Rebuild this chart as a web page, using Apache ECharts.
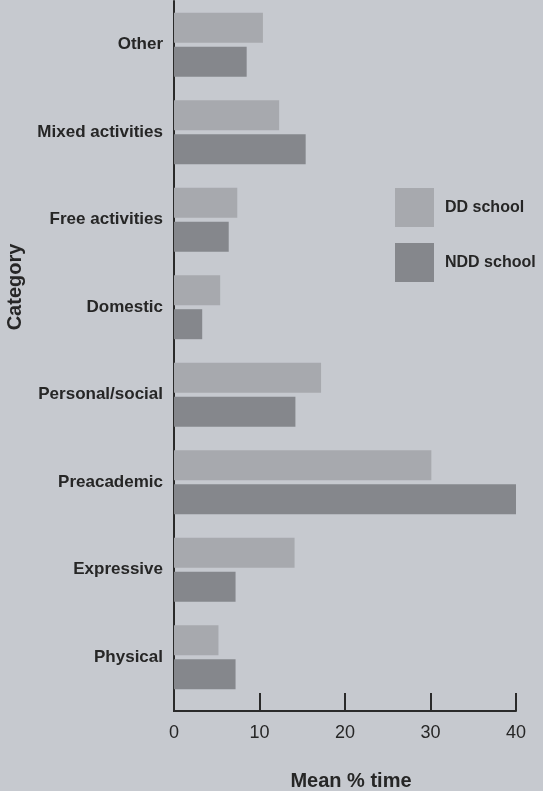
<!DOCTYPE html>
<html>
<head>
<meta charset="utf-8">
<script src="https://cdn.jsdelivr.net/npm/echarts@6/dist/echarts.min.js"></script>
<style>
html,body{margin:0;padding:0;background:#c6c9cf;}
#c{width:543px;height:791px;}
</style>
</head>
<body>
<div id="c"></div>
<script>
// Categories listed from bottom to top
const categories = ['Physical','Expressive','Preacademic','Personal/social','Domestic','Free activities','Mixed activities','Other'];
const ddSchool  = [5.2, 14.1, 30.1, 17.2, 5.4, 7.4, 12.3, 10.4];
const nddSchool = [7.2, 7.2, 40.0, 14.2, 3.3, 6.4, 15.4, 8.5];
const xTicks = [0, 10, 20, 30, 40];
const seriesNames = ['DD school', 'NDD school'];

const textColor = '#262626';
const font = '"Liberation Sans", Arial, sans-serif';

const chart = echarts.init(document.getElementById('c'), null, {renderer: 'canvas'});
chart.setOption({
  backgroundColor: '#c6c9cf',
  animation: false,
  grid: {left: 174, top: 1, width: 342, height: 700, containLabel: false, outerBoundsMode: 'none'},
  legend: {
    data: seriesNames,
    orient: 'vertical',
    left: 390, top: 183,
    itemWidth: 39, itemHeight: 39, itemGap: 16,
    icon: 'rect',
    textStyle: {fontFamily: font, fontSize: 16, fontWeight: 'bold', color: textColor, padding: [0,0,0,6]}
  },
  xAxis: {
    type: 'value',
    min: xTicks[0], max: xTicks[xTicks.length - 1], interval: 10,
    offset: 10,
    name: 'Mean % time',
    nameLocation: 'middle',
    nameGap: 60,
    nameTextStyle: {fontFamily: font, fontSize: 20, fontWeight: 'bold', color: textColor, padding: [0,0,0,12]},
    axisLine: {show: true, lineStyle: {color: '#2a2a2a', width: 2}},
    axisTick: {show: true, inside: true, length: 18, lineStyle: {color: '#2a2a2a', width: 2}},
    axisLabel: {fontFamily: font, fontSize: 18, color: textColor, margin: 13},
    splitLine: {show: false}
  },
  yAxis: {
    type: 'category',
    data: categories,
    name: 'Category',
    nameLocation: 'middle',
    nameRotate: 90,
    nameGap: 149,
    nameTextStyle: {fontFamily: font, fontSize: 20, fontWeight: 'bold', color: textColor, padding: [0,0,0,128]},
    axisLine: {show: true, lineStyle: {color: '#2a2a2a', width: 2}},
    axisTick: {show: false},
    axisLabel: {fontFamily: font, fontSize: 17, fontWeight: 'bold', color: textColor, margin: 11}
  },
  series: [
    {name: seriesNames[0], type: 'bar', data: ddSchool, barWidth: 30, barGap: '13%',
     itemStyle: {color: '#a7a9ae'}},
    {name: seriesNames[1], type: 'bar', data: nddSchool, barWidth: 30, barGap: '13%',
     itemStyle: {color: '#85878c'}}
  ],
  graphic: [{
    type: 'line',
    shape: {x1: 174, y1: 700, x2: 174, y2: 712},
    style: {stroke: '#2a2a2a', lineWidth: 2},
    silent: true
  }]
});
</script>
</body>
</html>
